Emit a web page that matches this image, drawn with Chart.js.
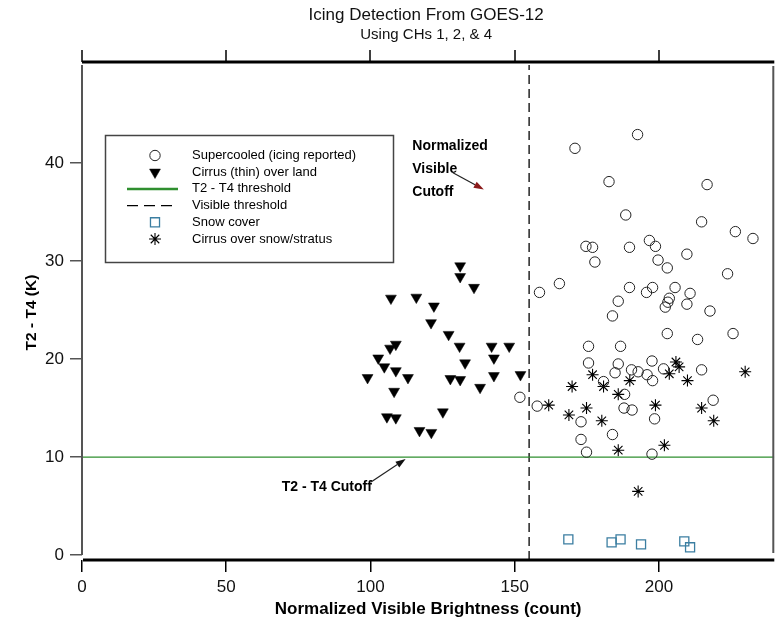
<!DOCTYPE html>
<html><head><meta charset="utf-8">
<style>html,body{margin:0;padding:0;background:#fff;}canvas{display:block;}</style>
<script src="https://cdn.jsdelivr.net/npm/chart.js@4/dist/chart.umd.min.js"></script>
</head><body>
<canvas id="c" width="782" height="630"></canvas>
<script>
// ---------- data ----------
const supercooledX = [192.6,170.9,182.7,216.7,188.5,214.8,226.5,232.6,174.7,177.0,189.8,196.7,198.8,209.7,177.8,199.7,202.9,223.8,158.6,165.5,189.8,197.8,195.7,205.6,210.8,203.6,203.1,202.2,209.7,185.9,217.7,183.9,202.9,225.7,213.4,175.6,186.7,175.6,185.9,197.6,184.8,190.5,192.8,195.9,197.8,201.6,214.8,180.8,188.1,157.8,173.0,187.9,190.7,198.5,218.8,173.0,183.9,174.9,197.6,151.8];
const supercooledY = [42.9,41.5,38.1,37.8,34.7,34.0,33.0,32.3,31.5,31.4,31.4,32.1,31.5,30.7,29.9,30.1,29.3,28.7,26.8,27.7,27.3,27.3,26.8,27.3,26.7,26.2,25.8,25.3,25.6,25.9,24.9,24.4,22.6,22.6,22.0,21.3,21.3,19.6,19.5,19.8,18.6,18.9,18.7,18.4,17.8,19.0,18.9,17.7,16.4,15.2,13.6,15.0,14.8,13.9,15.8,11.8,12.3,10.5,10.3,16.1];

const cirrusLandX = [131.1,131.1,135.9,107.1,115.9,122.0,121.0,127.1,108.8,106.8,130.9,142.0,148.1,102.7,104.8,108.8,132.8,142.8,99.0,113.0,127.7,131.1,142.8,152.0,108.2,138.0,105.7,108.8,125.1,117.0,121.1];
const cirrusLandY = [29.5,28.4,27.3,26.2,26.3,25.4,23.7,22.5,21.5,21.1,21.3,21.3,21.3,20.1,19.2,18.8,19.6,20.1,18.1,18.1,18.0,17.9,18.3,18.4,16.7,17.1,14.1,14.0,14.6,12.7,12.5];

const snowX = [168.6,183.6,186.7,193.8,208.8,210.8];
const snowY = [1.6,1.3,1.6,1.1,1.4,0.8];

const cirrusSnowX = [205.9,207.0,203.6,177.0,169.9,180.8,189.9,209.9,229.9,161.8,185.9,174.9,168.8,180.2,198.8,214.8,219.0,185.9,201.9,192.8];
const cirrusSnowY = [19.7,19.2,18.5,18.4,17.2,17.2,17.8,17.8,18.7,15.3,16.4,15.0,14.3,13.7,15.3,15.0,13.7,10.7,11.2,6.5];

const t2t4Threshold = 10;
const visibleThreshold = 155;

const xTicks = [0,50,100,150,200];
const yTicks = [0,10,20,30,40];
const xRange = [0,240];
const yRange = [-0.5,50];

const seriesNames = ['Supercooled (icing reported)','Cirrus (thin) over land','T2 - T4 threshold','Visible threshold','Snow cover','Cirrus over snow/stratus'];
const titleText = 'Icing Detection From GOES-12';
const subtitleText = 'Using CHs 1, 2, & 4';
const xTitle = 'Normalized Visible Brightness (count)';
const yTitle = 'T2 - T4 (K)';

const pts = (xs, ys) => xs.map((x,i)=>({x, y: ys[i]}));

const FONT = "'Liberation Sans', Arial, sans-serif";
Chart.defaults.font.family = FONT;
Chart.defaults.color = '#000';

const GREEN = '#2f8f2f';
const SNOW = '#3b7ea1';

const decorPlugin = {
  id: 'decor',
  afterDatasetsDraw(chart) {
    const ctx = chart.ctx, xs = chart.scales.x, ys = chart.scales.y, ca = chart.chartArea;
    const L = xs.getPixelForValue(xRange[0]), R = xs.getPixelForValue(xRange[1]);
    const T = ys.getPixelForValue(yRange[1]), B0 = ys.getPixelForValue(0);
    ctx.save();
    ctx.strokeStyle = '#555'; ctx.lineWidth = 2;
    ctx.beginPath();
    ctx.moveTo(L, T); ctx.lineTo(L, B0);
    ctx.moveTo(R - 1, T + 1); ctx.lineTo(R - 1, B0 - 2);
    ctx.stroke();
    ctx.strokeStyle = '#000'; ctx.lineWidth = 3;
    ctx.beginPath(); ctx.moveTo(L, T - 3); ctx.lineTo(R, T - 3); ctx.stroke();
    ctx.lineWidth = 1.5;
    ctx.beginPath();
    xTicks.forEach(v => { const px = Math.round(xs.getPixelForValue(v)); ctx.moveTo(px, T - 3); ctx.lineTo(px, T - 15); });
    ctx.stroke();
    ctx.lineWidth = 3;
    ctx.beginPath(); ctx.moveTo(L + 1, ca.bottom); ctx.lineTo(R, ca.bottom); ctx.stroke();
    ctx.restore();
  },
  afterDraw(chart) {
    const ctx = chart.ctx, xs = chart.scales.x, ys = chart.scales.y, ca = chart.chartArea;
    const cx = (ca.left + ca.right) / 2;
    ctx.save();
    ctx.fillStyle = '#111'; ctx.textAlign = 'center'; ctx.textBaseline = 'middle';
    ctx.font = '17px ' + FONT; ctx.fillText(titleText, cx - 2, 15);
    ctx.font = '15px ' + FONT; ctx.fillText(subtitleText, cx - 2, 35);

    ctx.strokeStyle = '#444'; ctx.lineWidth = 1.5;
    ctx.strokeRect(105.5, 135.5, 288, 127);
    const symX = 155, textX = 192, row0 = 155.5, step = 16.7;
    ctx.font = '13px ' + FONT; ctx.textAlign = 'left'; ctx.textBaseline = 'middle';
    chart.data.datasets.forEach((ds, i) => {
      const y = row0 + i * step;
      ctx.save();
      if (ds.showLine) {
        ctx.strokeStyle = ds.borderColor; ctx.lineWidth = ds.legendWidth || ds.borderWidth;
        ctx.setLineDash(ds.legendDash || []);
        ctx.beginPath(); ctx.moveTo(127, y); ctx.lineTo(178, y); ctx.stroke();
      } else {
        ctx.fillStyle = ds.backgroundColor; ctx.strokeStyle = ds.borderColor; ctx.lineWidth = ds.borderWidth;
        Chart.helpers.drawPoint(ctx, {pointStyle: ds.pointStyle, rotation: ds.rotation || 0, radius: ds.pointRadius, borderWidth: ds.borderWidth}, symX, y);
      }
      ctx.restore();
      ctx.fillStyle = '#000';
      ctx.fillText(ds.label, textX, y);
    });

    ctx.font = 'bold 14px ' + FONT; ctx.fillStyle = '#000'; ctx.textAlign = 'left'; ctx.textBaseline = 'middle';
    const ax = xs.getPixelForValue(114.5);
    ctx.fillText('Normalized', ax, ys.getPixelForValue(41.7));
    ctx.fillText('Visible', ax, ys.getPixelForValue(39.35));
    ctx.fillText('Cutoff', ax, ys.getPixelForValue(37.0));
    ctx.textAlign = 'right';
    ctx.fillText('T2 - T4 Cutoff', xs.getPixelForValue(100.5), ys.getPixelForValue(6.9));

    const arrow = (x0, y0, x1, y1, headColor) => {
      const p0 = [xs.getPixelForValue(x0), ys.getPixelForValue(y0)];
      const p1 = [xs.getPixelForValue(x1), ys.getPixelForValue(y1)];
      const ang = Math.atan2(p1[1] - p0[1], p1[0] - p0[0]);
      const hl = 10, hw = 3.5;
      const bx = p1[0] - hl * Math.cos(ang), by = p1[1] - hl * Math.sin(ang);
      ctx.strokeStyle = '#222'; ctx.lineWidth = 1.2;
      ctx.beginPath(); ctx.moveTo(p0[0], p0[1]); ctx.lineTo(bx, by); ctx.stroke();
      ctx.fillStyle = headColor;
      ctx.beginPath();
      ctx.moveTo(p1[0], p1[1]);
      ctx.lineTo(bx + hw * Math.sin(ang), by - hw * Math.cos(ang));
      ctx.lineTo(bx - hw * Math.sin(ang), by + hw * Math.cos(ang));
      ctx.closePath(); ctx.fill();
    };
    arrow(128.6, 39.0, 139.3, 37.3, '#8b1a1a');
    arrow(100.2, 7.45, 112.2, 9.8, '#111');
    ctx.restore();
  }
};

new Chart(document.getElementById('c'), {
  type: 'scatter',
  data: {
    datasets: [
      { label: seriesNames[0], data: pts(supercooledX, supercooledY), pointStyle: 'circle', pointRadius: 5.2,
        borderColor: '#222', backgroundColor: 'rgba(255,255,255,0)', borderWidth: 1 },
      { label: seriesNames[1], data: pts(cirrusLandX, cirrusLandY), pointStyle: 'triangle', rotation: 180, pointRadius: 6.3,
        borderColor: '#000', backgroundColor: '#000', borderWidth: 0.5 },
      { label: seriesNames[2], data: [{x: xRange[0], y: t2t4Threshold}, {x: xRange[1], y: t2t4Threshold}], showLine: true,
        pointRadius: 0, borderColor: GREEN, borderWidth: 1.3, legendWidth: 2.5, backgroundColor: GREEN },
      { label: seriesNames[3], data: [{x: visibleThreshold, y: yRange[0]}, {x: visibleThreshold, y: yRange[1]}], showLine: true,
        pointRadius: 0, borderColor: '#000', borderWidth: 1.3, borderDash: [9, 5], legendDash: [11, 6], backgroundColor: '#000' },
      { label: seriesNames[4], data: pts(snowX, snowY), pointStyle: 'rect', pointRadius: 6.4,
        borderColor: SNOW, backgroundColor: 'rgba(255,255,255,0)', borderWidth: 1.3 },
      { label: seriesNames[5], data: pts(cirrusSnowX, cirrusSnowY), pointStyle: 'star', pointRadius: 6,
        borderColor: '#000', backgroundColor: '#000', borderWidth: 1.1 }
    ]
  },
  options: {
    responsive: false, animation: false, devicePixelRatio: 1,
    layout: { padding: { top: 65, right: 2, left: 0, bottom: 0 } },
    plugins: { legend: { display: false }, tooltip: { enabled: false } },
    elements: { point: { hoverRadius: 5 } },
    scales: {
      x: {
        type: 'linear', position: 'bottom', min: xRange[0], max: xRange[1],
        afterBuildTicks: s => { s.ticks = xTicks.map(v => ({value: v})); },
        afterFit: s => { s.height = 70; },
        grid: { drawOnChartArea: false, drawTicks: true, tickLength: 12, color: '#000', lineWidth: 1.5 },
        border: { display: false },
        ticks: { font: { size: 17 }, padding: 5, color: '#111', maxRotation: 0 },
        title: { display: true, text: xTitle, font: { size: 17, weight: 'bold' }, padding: { top: 0, bottom: 10 }, color: '#000' }
      },
      y: {
        type: 'linear', min: yRange[0], max: yRange[1],
        afterBuildTicks: s => { s.ticks = yTicks.map(v => ({value: v})); },
        afterFit: s => { s.width = 82; },
        grid: { drawOnChartArea: false, drawTicks: true, tickLength: 12, color: '#555', lineWidth: 1.5 },
        border: { display: false },
        ticks: { font: { size: 17 }, padding: 6, color: '#111' },
        title: { display: true, text: yTitle, font: { size: 15.5, weight: 'bold' }, padding: { top: 22, bottom: 0 }, color: '#000' }
      }
    }
  },
  plugins: [decorPlugin]
});
</script>
</body></html>
